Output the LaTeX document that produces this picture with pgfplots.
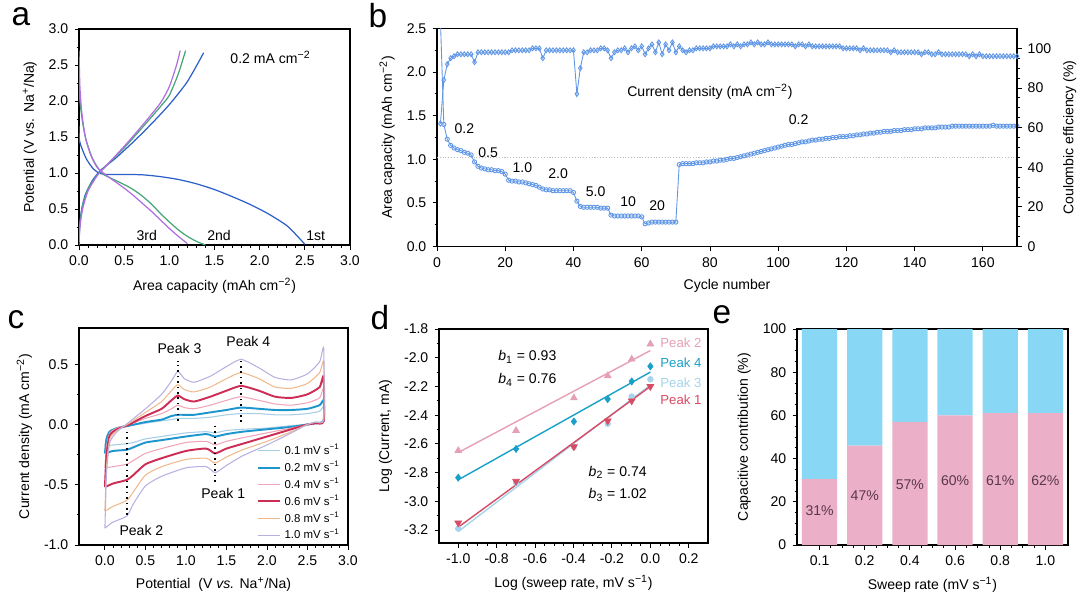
\documentclass[border=0pt]{standalone}
\usepackage{fontspec}
\setmainfont{Liberation Sans}
\usepackage{pgfplots}
\pgfplotsset{compat=1.18}
\usepackage{pgfplotstable}

\definecolor{aBlue}{RGB}{45,95,200}
\definecolor{aGreen}{RGB}{70,165,120}
\definecolor{aPurple}{RGB}{175,110,225}
\definecolor{bBlue}{RGB}{95,150,230}
\definecolor{cA}{RGB}{165,205,230}
\definecolor{cB}{RGB}{30,150,205}
\definecolor{cC}{RGB}{240,165,185}
\definecolor{cD}{RGB}{205,45,85}
\definecolor{cE}{RGB}{240,185,140}
\definecolor{cF}{RGB}{185,175,225}
\definecolor{dPink}{RGB}{230,160,180}
\definecolor{dCyan}{RGB}{25,160,200}
\definecolor{dLight}{RGB}{165,212,235}
\definecolor{dRed}{RGB}{215,75,100}
\definecolor{ePink}{RGB}{235,175,200}
\definecolor{eBlue}{RGB}{135,215,245}
\definecolor{eText}{RGB}{90,55,75}

\pgfplotsset{
  panel/.style={
    scale only axis, anchor=north west,
    font=\fontsize{8}{9}\selectfont,
    tick label style={font=\fontsize{8}{9}\selectfont},
    label style={font=\fontsize{8}{9}\selectfont},
    /pgf/number format/assume math mode=true,
    tick align=outside, xtick pos=lower, ytick pos=left,
    major tick length=0.09cm, minor tick length=0.05cm,
    every tick/.style={black, line width=0.5pt},
    axis line style={line width=0.7pt},
  },
  xdec/.style={xticklabel style={/pgf/number format/.cd, fixed, fixed zerofill, precision=1}},
  ydec/.style={yticklabel style={/pgf/number format/.cd, fixed, fixed zerofill, precision=1}},
}

% cycling data, panel b
\pgfplotstableread{
c cap ce
1 2.60 62
2 1.40 84
3 1.23 92
4 1.16 95
5 1.13 96
6 1.11 97
7 1.10 97
8 1.08 97
9 1.07 97
10 1.05 97
11 0.97 93
12 0.92 98
13 0.90 98
14 0.89 98
15 0.88 98
16 0.88 98
17 0.87 98
18 0.87 98
19 0.86 98
20 0.83 98
21 0.76 98
22 0.75 99
23 0.75 99
24 0.74 99
25 0.74 99
26 0.73 99
27 0.72 99
28 0.71 100
29 0.70 100
30 0.68 100
31 0.66 95
32 0.65 99
33 0.65 99
34 0.64 99
35 0.64 99
36 0.64 99
37 0.64 99
38 0.64 99
39 0.64 99
40 0.62 99
41 0.52 77
42 0.46 90
43 0.45 98
44 0.45 98
45 0.45 99
46 0.45 99
47 0.45 99
48 0.44 100
49 0.44 100
50 0.44 99
51 0.36 95
52 0.35 98
53 0.35 99
54 0.35 99
55 0.35 100
56 0.35 98
57 0.35 100
58 0.35 101
59 0.35 99
60 0.34 101
61 0.26 97
62 0.27 100
63 0.28 102
64 0.28 98
65 0.28 103
66 0.28 97
67 0.28 102
68 0.28 99
69 0.28 103
70 0.28 98
71 0.94 101
72 0.95 99
73 0.95 98
74 0.95 99
75 0.95 99
76 0.96 100
77 0.96 100
78 0.96 100
79 0.97 100
80 0.97 100
81 0.98 101
82 0.98 101
83 0.99 101
84 0.99 101
85 1.00 101
86 1.01 102
87 1.01 101
88 1.02 102
89 1.03 101
90 1.04 102
91 1.05 102
92 1.06 103
93 1.07 102
94 1.08 103
95 1.09 102
96 1.10 102
97 1.11 103
98 1.12 102
99 1.13 102
100 1.14 102
101 1.15 102
102 1.16 102
103 1.17 102
104 1.17 102
105 1.18 101
106 1.19 102
107 1.20 102
108 1.20 101
109 1.21 102
110 1.22 101
111 1.22 101
112 1.23 101
113 1.23 101
114 1.24 101
115 1.24 101
116 1.25 101
117 1.25 101
118 1.26 101
119 1.26 100
120 1.26 100
121 1.27 100
122 1.27 100
123 1.28 100
124 1.28 99
125 1.29 100
126 1.29 99
127 1.30 99
128 1.30 99
129 1.31 99
130 1.31 99
131 1.32 99
132 1.32 99
133 1.32 98
134 1.33 99
135 1.33 98
136 1.33 98
137 1.34 98
138 1.34 98
139 1.34 98
140 1.35 98
141 1.35 98
142 1.35 97
143 1.36 98
144 1.36 98
145 1.36 97
146 1.36 97
147 1.37 98
148 1.37 97
149 1.37 97
150 1.37 97
151 1.38 97
152 1.38 97
153 1.38 97
154 1.38 97
155 1.38 97
156 1.38 96
157 1.38 97
158 1.38 96
159 1.38 97
160 1.38 96
161 1.38 96
162 1.38 96
163 1.39 96
164 1.38 96
165 1.38 96
166 1.38 96
167 1.38 96
168 1.38 96
169 1.38 96
170 1.38 96
}\cyc

\begin{document}
\begin{tikzpicture}
\useasboundingbox (0,0) rectangle (21.6,-11.98);

% ---------------- a
\node[font=\fontsize{19}{20}\selectfont] at (0.42,-0.34) {a};
\begin{axis}[panel, xdec, ydec, at={(1.58cm,-0.58cm)}, width=5.42cm, height=4.32cm,
  xmin=0, xmax=3, ymin=0, ymax=3,
  xtick={0,0.5,...,3}, ytick={0,0.5,...,3},
  minor x tick num=4, minor y tick num=1,
  xlabel={Area capacity (mAh cm\textsuperscript{−2})},
  ylabel={Potential (V vs. Na\textsuperscript{+}/Na)},
  every axis plot/.append style={line width=0.7pt, smooth, tension=0.4},
]
\addplot[aBlue] coordinates {(0,1.65) (0.005,1.45) (0.03,1.35) (0.08,1.2) (0.15,1.07) (0.22,1.0) (0.3,0.98) (0.5,0.98) (0.7,0.975) (0.9,0.95) (1.1,0.91) (1.3,0.85) (1.5,0.77) (1.7,0.67) (1.9,0.56) (2.1,0.43) (2.3,0.27) (2.42,0.12) (2.5,0.01)};
\addplot[aBlue] coordinates {(0,0.05) (0.01,0.3) (0.03,0.5) (0.07,0.7) (0.15,0.9) (0.25,1.05) (0.4,1.2) (0.6,1.43) (0.8,1.68) (1.0,1.95) (1.2,2.27) (1.38,2.67)};
\addplot[aGreen] coordinates {(0,2.27) (0.01,2.0) (0.04,1.7) (0.08,1.45) (0.15,1.2) (0.25,1.0) (0.35,0.93) (0.5,0.84) (0.6,0.77) (0.7,0.68) (0.8,0.57) (0.9,0.44) (1.0,0.32) (1.1,0.21) (1.2,0.12) (1.3,0.05) (1.4,0.0)};
\addplot[aGreen] coordinates {(0,0.1) (0.01,0.3) (0.04,0.55) (0.1,0.78) (0.2,0.97) (0.3,1.1) (0.5,1.35) (0.7,1.63) (0.9,1.92) (1.0,2.08) (1.1,2.38) (1.18,2.7)};
\addplot[aPurple] coordinates {(0,2.7) (0.01,2.2) (0.03,1.85) (0.07,1.5) (0.13,1.25) (0.2,1.08) (0.3,0.97) (0.4,0.88) (0.5,0.79) (0.6,0.69) (0.7,0.58) (0.8,0.47) (0.9,0.35) (1.0,0.23) (1.1,0.12) (1.2,0.02)};
\addplot[aPurple] coordinates {(0,0.0) (0.01,0.25) (0.04,0.5) (0.1,0.75) (0.2,0.96) (0.3,1.1) (0.5,1.37) (0.7,1.66) (0.9,1.97) (1.0,2.2) (1.08,2.5) (1.12,2.7)};
\node at (axis cs:2.12,2.6) {0.2 mA cm\textsuperscript{−2}};
\node at (axis cs:0.75,0.13) {3rd};
\node at (axis cs:1.55,0.13) {2nd};
\node at (axis cs:2.62,0.13) {1st};
\end{axis}

% ---------------- b
\node[font=\fontsize{19}{20}\selectfont] at (7.56,-0.32) {b};
\begin{axis}[panel, ydec, at={(8.74cm,-0.57cm)}, width=11.6cm, height=4.36cm,
  xmin=0, xmax=170, ymin=0, ymax=2.5,
  xtick={0,20,...,160}, ytick={0,0.5,...,2.5},
  minor y tick num=1,
  xlabel={Cycle number},
  ylabel={Area capacity (mAh cm\textsuperscript{−2})},
]
\draw[gray!50, densely dotted, line width=0.6pt] (axis cs:0,1.02) -- (axis cs:170,1.02);
\addplot[bBlue, line width=0.5pt, mark=o, mark size=1.2pt] table[x=c, y=cap] {\cyc};
\node at (axis cs:80,1.77) {Current density (mA cm\textsuperscript{−2})};
\node at (axis cs:8,1.35) {0.2};
\node at (axis cs:15,1.08) {0.5};
\node at (axis cs:25,0.90) {1.0};
\node at (axis cs:35.5,0.83) {2.0};
\node at (axis cs:46.5,0.63) {5.0};
\node at (axis cs:56,0.52) {10};
\node at (axis cs:64.5,0.47) {20};
\node at (axis cs:106,1.46) {0.2};
\end{axis}
\begin{axis}[panel, at={(8.74cm,-0.57cm)}, width=11.6cm, height=4.36cm,
  xmin=0, xmax=170, ymin=0, ymax=110,
  axis x line=none, axis y line*=right, ytick pos=right,
  ytick={0,20,...,100}, minor y tick num=3,
  ylabel={Coulombic efficiency (\%)},
]
\addplot[bBlue, line width=0.5pt, mark=diamond, mark size=1.4pt] table[x=c, y=ce] {\cyc};
\end{axis}

% ---------------- c
\node[font=\fontsize{19}{20}\selectfont] at (0.32,-6.40) {c};
\begin{axis}[panel, xdec, ydec, at={(1.58cm,-6.56cm)}, width=5.38cm, height=4.34cm,
  xmin=-0.32, xmax=3.0, ymin=-1.0, ymax=0.8,
  xtick={0,0.5,...,3}, ytick={-1,-0.5,0,0.5},
  minor x tick num=4, minor y tick num=1,
  xlabel={Potential\ \ (V \textit{vs.} Na\textsuperscript{+}/Na)},
  ylabel={Current density (mA cm\textsuperscript{−2})},
  every axis plot/.append style={smooth, tension=0.35},
  legend style={at={(rel axis cs:0.99,0.49)}, anchor=north east, draw=none, fill=none,
    font=\fontsize{6.5}{7}\selectfont, row sep=-1.5pt, inner sep=1pt},
  legend cell align=left,
  legend image code/.code={\draw[#1] (0cm,0cm) -- (0.45cm,0cm);},
]
\addplot[cA, line width=0.6pt] coordinates {(0,-0.18) (0.02,-0.10) (0.06,-0.05) (0.15,-0.03) (0.3,-0.01) (0.5,0.01) (0.7,0.03) (0.82,0.04) (0.9,0.05) (0.98,0.05) (1.1,0.05) (1.3,0.06) (1.5,0.08) (1.68,0.09) (1.9,0.09) (2.1,0.08) (2.3,0.08) (2.5,0.09) (2.65,0.11) (2.7,0.15) (2.7,0.02) (2.6,0.01) (2.5,0.0) (2.3,-0.01) (2.0,-0.03) (1.7,-0.04) (1.5,-0.05) (1.36,-0.07) (1.25,-0.06) (1.0,-0.07) (0.7,-0.10) (0.5,-0.12) (0.35,-0.15) (0.27,-0.16) (0.1,-0.17) (0,-0.18)};
\addplot[cB, line width=1.1pt] coordinates {(0,-0.24) (0.02,-0.12) (0.06,-0.06) (0.15,-0.03) (0.3,-0.01) (0.5,0.02) (0.7,0.04) (0.82,0.07) (0.9,0.08) (0.98,0.08) (1.1,0.08) (1.3,0.10) (1.5,0.12) (1.68,0.14) (1.9,0.13) (2.1,0.12) (2.3,0.12) (2.5,0.13) (2.65,0.16) (2.7,0.20) (2.7,0.03) (2.6,0.01) (2.5,0.0) (2.3,-0.02) (2.0,-0.04) (1.7,-0.06) (1.5,-0.08) (1.36,-0.10) (1.25,-0.08) (1.0,-0.10) (0.7,-0.13) (0.5,-0.15) (0.35,-0.19) (0.27,-0.21) (0.1,-0.22) (0,-0.24)};
\addplot[cC, line width=0.6pt] coordinates {(0,-0.36) (0.02,-0.18) (0.06,-0.07) (0.15,-0.03) (0.3,0.0) (0.5,0.05) (0.7,0.09) (0.82,0.13) (0.9,0.16) (0.98,0.14) (1.1,0.13) (1.3,0.16) (1.5,0.20) (1.68,0.23) (1.9,0.20) (2.1,0.17) (2.3,0.16) (2.5,0.18) (2.65,0.22) (2.7,0.30) (2.7,0.02) (2.6,0.01) (2.5,0.0) (2.3,-0.03) (2.0,-0.07) (1.7,-0.11) (1.5,-0.14) (1.36,-0.17) (1.25,-0.14) (1.0,-0.15) (0.7,-0.20) (0.5,-0.24) (0.35,-0.30) (0.27,-0.33) (0.1,-0.35) (0,-0.36)};
\addplot[cD, line width=1.1pt] coordinates {(0,-0.52) (0.02,-0.25) (0.06,-0.09) (0.15,-0.04) (0.3,0.0) (0.5,0.07) (0.7,0.13) (0.82,0.20) (0.9,0.24) (0.98,0.21) (1.1,0.19) (1.3,0.23) (1.5,0.28) (1.68,0.32) (1.9,0.28) (2.1,0.23) (2.3,0.22) (2.5,0.25) (2.65,0.31) (2.7,0.40) (2.7,0.03) (2.6,0.01) (2.5,0.0) (2.3,-0.04) (2.0,-0.10) (1.7,-0.16) (1.5,-0.20) (1.36,-0.24) (1.25,-0.20) (1.0,-0.22) (0.7,-0.28) (0.5,-0.33) (0.35,-0.42) (0.27,-0.46) (0.1,-0.49) (0,-0.52)};
\addplot[cE, line width=0.6pt] coordinates {(0,-0.72) (0.02,-0.35) (0.06,-0.12) (0.15,-0.05) (0.3,0.01) (0.5,0.10) (0.7,0.19) (0.82,0.28) (0.9,0.33) (0.98,0.29) (1.1,0.27) (1.3,0.31) (1.5,0.38) (1.68,0.43) (1.9,0.38) (2.1,0.31) (2.3,0.30) (2.5,0.34) (2.65,0.43) (2.7,0.52) (2.7,0.04) (2.6,0.02) (2.5,0.0) (2.3,-0.06) (2.0,-0.14) (1.7,-0.21) (1.5,-0.27) (1.36,-0.32) (1.25,-0.28) (1.0,-0.29) (0.7,-0.35) (0.5,-0.42) (0.35,-0.56) (0.27,-0.63) (0.1,-0.68) (0,-0.72)};
\addplot[cF, line width=0.6pt] coordinates {(0,-0.86) (0.02,-0.40) (0.06,-0.15) (0.15,-0.06) (0.3,0.02) (0.5,0.13) (0.7,0.25) (0.82,0.36) (0.9,0.44) (0.98,0.38) (1.1,0.35) (1.3,0.40) (1.5,0.48) (1.68,0.54) (1.9,0.47) (2.1,0.39) (2.3,0.37) (2.5,0.42) (2.65,0.52) (2.7,0.63) (2.7,0.05) (2.6,0.02) (2.5,0.0) (2.3,-0.07) (2.0,-0.17) (1.7,-0.26) (1.5,-0.34) (1.36,-0.40) (1.25,-0.35) (1.0,-0.36) (0.7,-0.43) (0.5,-0.51) (0.35,-0.66) (0.27,-0.76) (0.1,-0.81) (0,-0.86)};
\legend{0.1 mV s\textsuperscript{−1}, 0.2 mV s\textsuperscript{−1}, 0.4 mV s\textsuperscript{−1}, 0.6 mV s\textsuperscript{−1}, 0.8 mV s\textsuperscript{−1}, 1.0 mV s\textsuperscript{−1}}
\draw[black, line width=0.9pt, dash pattern=on 0.9pt off 2.2pt] (axis cs:0.9,0.03) -- (axis cs:0.9,0.53);
\draw[black, line width=0.9pt, dash pattern=on 0.9pt off 2.2pt] (axis cs:1.68,0.02) -- (axis cs:1.68,0.56);
\draw[black, line width=0.9pt, dash pattern=on 0.9pt off 2.2pt] (axis cs:1.36,-0.01) -- (axis cs:1.36,-0.50);
\draw[black, line width=0.9pt, dash pattern=on 0.9pt off 2.2pt] (axis cs:0.27,-0.06) -- (axis cs:0.27,-0.76);
\node at (axis cs:0.92,0.63) {Peak 3};
\node at (axis cs:1.77,0.69) {Peak 4};
\node at (axis cs:1.46,-0.57) {Peak 1};
\node at (axis cs:0.45,-0.88) {Peak 2};
\end{axis}

% ---------------- d
\node[font=\fontsize{19}{20}\selectfont] at (7.6,-6.36) {d};
\begin{axis}[panel, xdec, ydec, at={(8.78cm,-6.58cm)}, width=5.38cm, height=4.28cm,
  xmin=-1.1, xmax=0.3, ymin=-3.29, ymax=-1.8,
  xtick={-1,-0.8,-0.6,-0.4,-0.2,0,0.2}, ytick={-3.2,-3.0,-2.8,-2.6,-2.4,-2.2,-2.0,-1.8},
  minor x tick num=3, minor y tick num=1,
  xlabel={Log (sweep rate, mV s\textsuperscript{−1})},
  ylabel={Log (Current, mA)},
]
\addplot[dPink, line width=0.8pt] coordinates {(-1,-2.66) (0,-1.95)};
\addplot[dCyan, line width=0.8pt] coordinates {(-1,-2.85) (0,-2.10)};
\addplot[dLight, line width=0.8pt] coordinates {(-1,-3.21) (0,-2.19)};
\addplot[dRed, line width=0.8pt] coordinates {(-1,-3.18) (0,-2.20)};
\addplot[only marks, dPink, mark=triangle*, mark size=2.2pt] coordinates {(-1,-2.647) (-0.699,-2.507) (-0.398,-2.28) (-0.222,-2.126) (-0.097,-2.01) (0,-1.905)};
\addplot[only marks, dCyan, mark=diamond*, mark size=2pt] coordinates {(-1,-2.835) (-0.699,-2.635) (-0.398,-2.444) (-0.222,-2.288) (-0.097,-2.165) (0,-2.06)};
\addplot[only marks, dLight, mark=*, mark size=1.6pt] coordinates {(-1,-3.19) (-0.699,-2.87) (-0.398,-2.62) (-0.222,-2.46) (-0.097,-2.27) (0,-2.15)};
\addplot[only marks, dRed, mark=triangle*, mark options={rotate=180}, mark size=2.2pt] coordinates {(-1,-3.15) (-0.699,-2.86) (-0.398,-2.62) (-0.222,-2.44) (-0.097,-2.30) (0,-2.20)};
\node at (axis cs:-0.64,-1.995) {\textit{b}\textsubscript{1} = 0.93};
\node at (axis cs:-0.64,-2.155) {\textit{b}\textsubscript{4} = 0.76};
\node at (axis cs:-0.17,-2.80) {\textit{b}\textsubscript{2} = 0.74};
\node at (axis cs:-0.17,-2.956) {\textit{b}\textsubscript{3} = 1.02};
\node[anchor=west, text=dPink, font=\fontsize{7.5}{8}\selectfont] at (axis cs:0.02,-1.897) {Peak 2};
\node[anchor=west, text=dCyan, font=\fontsize{7.5}{8}\selectfont] at (axis cs:0.02,-2.037) {Peak 4};
\node[anchor=west, text=dLight, font=\fontsize{7.5}{8}\selectfont] at (axis cs:0.02,-2.176) {Peak 3};
\node[anchor=west, text=dRed, font=\fontsize{7.5}{8}\selectfont] at (axis cs:0.02,-2.29) {Peak 1};
\end{axis}

% ---------------- e
\node[font=\fontsize{19}{20}\selectfont] at (14.44,-6.30) {e};
\begin{axis}[panel, at={(15.94cm,-6.58cm)}, width=5.42cm, height=4.32cm,
  ybar stacked, bar width=0.78,
  xmin=-0.5, xmax=5.5, ymin=0, ymax=100,
  xtick={0,1,2,3,4,5}, xticklabels={0.1,0.2,0.4,0.6,0.8,1.0},
  ytick={0,20,40,60,80,100}, minor y tick num=3, minor x tick num=3,
  xlabel={Sweep rate (mV s\textsuperscript{−1})},
  ylabel={Capacitive contribution (\%)},
]
\addplot[fill=ePink, draw=none] coordinates {(0,30.5) (1,46) (2,57) (3,60) (4,61) (5,61)};
\addplot[fill=eBlue, draw=none] coordinates {(0,69.5) (1,54) (2,43) (3,40) (4,39) (5,39)};
\end{axis}
% percentage labels over the bars
\begin{axis}[panel, at={(15.94cm,-6.58cm)}, width=5.42cm, height=4.32cm,
  xmin=-0.5, xmax=5.5, ymin=0, ymax=100, hide axis]
\node[text=eText] at (axis cs:0,16) {31\%};
\node[text=eText] at (axis cs:1,23) {47\%};
\node[text=eText] at (axis cs:2,28) {57\%};
\node[text=eText] at (axis cs:3,30) {60\%};
\node[text=eText] at (axis cs:4,30) {61\%};
\node[text=eText] at (axis cs:5,30) {62\%};
\end{axis}
\end{tikzpicture}
\end{document}
